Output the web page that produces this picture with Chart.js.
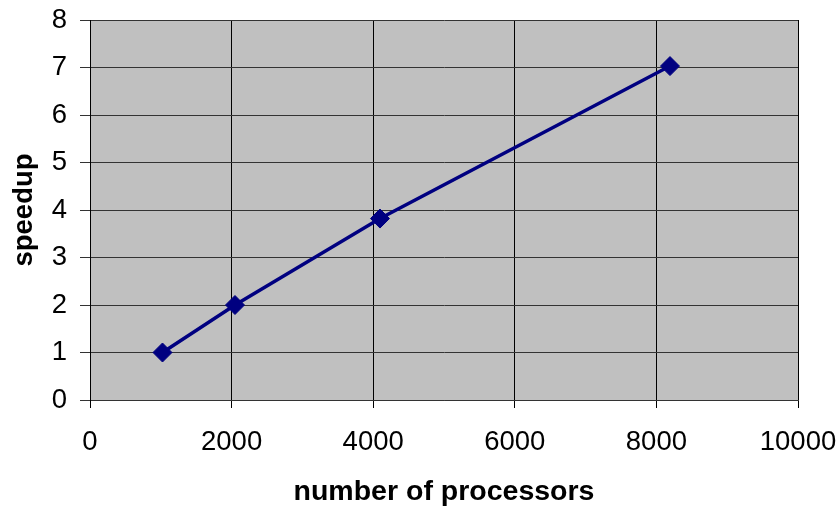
<!DOCTYPE html>
<html>
<head>
<meta charset="utf-8">
<script src="https://cdn.jsdelivr.net/npm/chart.js@4.4.1/dist/chart.umd.min.js"></script>
<style>
  html, body { margin: 0; padding: 0; background: #fff; }
  #wrap { width: 840px; height: 506px; position: relative; }
</style>
</head>
<body>
<div id="wrap"><canvas id="c" width="840" height="506"></canvas></div>
<script>
const processors = [1024, 2048, 4096, 8192];
const speedup = [1, 2, 3.82, 7.03];
const xTitle = 'number of processors';
const yTitle = 'speedup';

const plotBg = {
  id: 'plotBg',
  beforeDraw(chart) {
    const { ctx, chartArea: a } = chart;
    ctx.save();
    ctx.fillStyle = '#C0C0C0';
    ctx.fillRect(a.left, a.top, a.right - a.left, a.bottom - a.top);
    ctx.restore();
  }
};

function zeroPad(s) {
  s.paddingLeft = 0; s.paddingRight = 0; s.paddingTop = 0; s.paddingBottom = 0;
}

const FAM = "'Liberation Sans', Arial, sans-serif";

new Chart(document.getElementById('c'), {
  type: 'scatter',
  data: {
    datasets: [{
      data: processors.map((p, i) => ({ x: p, y: speedup[i] })),
      showLine: true,
      borderColor: '#000080',
      backgroundColor: '#000080',
      borderWidth: 3.5,
      pointStyle: 'rectRot',
      pointRadius: 9.5,
      pointBorderWidth: 1,
      pointBackgroundColor: '#000080',
      pointBorderColor: '#000080'
    }]
  },
  options: {
    responsive: false,
    animation: false,
    devicePixelRatio: 1,
    layout: { padding: { top: 20, right: 42, bottom: 0, left: 0 } },
    plugins: { legend: { display: false }, tooltip: { enabled: false } },
    scales: {
      x: {
        type: 'linear',
        min: 0, max: 10000,
        afterFit(s) { s.height = 106; zeroPad(s); },
        ticks: { stepSize: 2000, color: '#000', padding: 18, maxRotation: 0,
                 callback: v => String(v),
                 font: { family: FAM, size: 27.5 } },
        grid: { color: '#000', lineWidth: 1, tickLength: 8, drawTicks: true },
        border: { color: '#333', width: 1 },
        title: { display: true, text: xTitle, color: '#000',
                 padding: { top: 0, bottom: 0 },
                 font: { family: FAM, size: 28.5, weight: 'bold', lineHeight: 1 } }
      },
      y: {
        min: 0, max: 8,
        afterFit(s) { s.width = 90; zeroPad(s); },
        ticks: { stepSize: 1, color: '#000', padding: 13,
                 callback: v => String(v),
                 font: { family: FAM, size: 27.5 } },
        grid: { color: '#333', lineWidth: 1, tickLength: 10 },
        border: { color: '#000', width: 1 },
        title: { display: true, text: yTitle, color: '#000',
                 padding: { top: 8, bottom: 0 },
                 font: { family: FAM, size: 27.5, weight: 'bold' } }
      }
    }
  },
  plugins: [plotBg]
});
</script>
</body>
</html>
